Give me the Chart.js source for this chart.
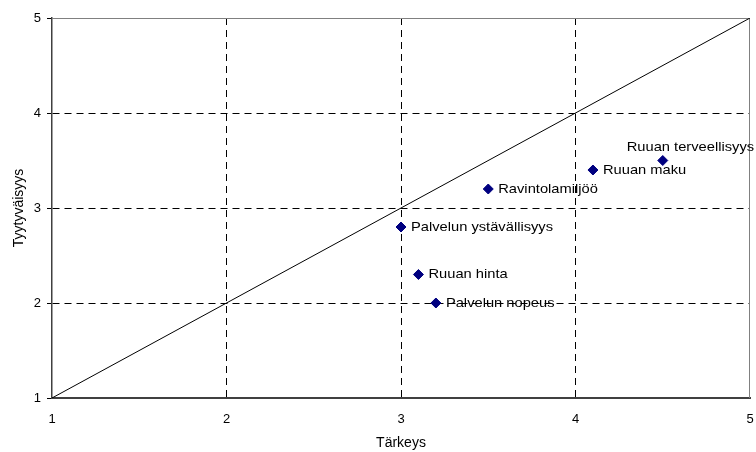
<!DOCTYPE html>
<html>
<head>
<meta charset="utf-8">
<script src="https://cdn.jsdelivr.net/npm/chart.js"></script>
<style>
  html, body { margin: 0; padding: 0; background: #fff; }
  #wrap { width: 756px; height: 452px; }
</style>
</head>
<body>
<div id="wrap"><canvas id="chart" width="756" height="452"></canvas></div>
<script>
  // arvot luettu kuvasta
  const labels = ['Ruuan terveellisyys', 'Ruuan maku', 'Ravintolamiljöö', 'Palvelun ystävällisyys', 'Ruuan hinta', 'Palvelun nopeus'];
  const tarkeys = [4.5, 4.1, 3.5, 3.0, 3.1, 3.2];
  const tyytyvaisyys = [3.5, 3.4, 3.2, 2.8, 2.3, 2.0];
  const diagonal = [1, 5];
  const axisTicks = [1, 2, 3, 4, 5];

  const family = "'Liberation Sans', Arial, sans-serif";
  const tickFont = { family: family, size: 13 };
  const titleFont = { family: family, size: 14 };

  const frame = {
    id: 'frame',
    beforeDatasetsDraw(chart) {
      const { ctx, chartArea: a } = chart;
      ctx.save();
      ctx.strokeStyle = '#808080';
      ctx.lineWidth = 1;
      ctx.beginPath();
      ctx.moveTo(a.left, a.top + 0.5);
      ctx.lineTo(a.right - 0.5, a.top + 0.5);
      ctx.lineTo(a.right - 0.5, a.bottom);
      ctx.stroke();
      ctx.restore();
    }
  };

  const pointLabels = {
    id: 'pointLabels',
    afterDatasetsDraw(chart) {
      const { ctx } = chart;
      const meta = chart.getDatasetMeta(0);
      const sx = 1.13; // alkuperäisessä teksti on hieman leveämpää
      ctx.save();
      ctx.font = '13px ' + family;
      ctx.fillStyle = '#000';
      ctx.textBaseline = 'middle';
      ctx.textAlign = 'left';
      meta.data.forEach((pt, i) => {
        let dx = 10, dy = 0;
        if (i === 0) { dx = -36; dy = -13; }  // tämä selite on pisteen yläpuolella
        ctx.save();
        ctx.translate(pt.x + dx, pt.y + dy);
        ctx.scale(sx, 1);
        ctx.fillText(labels[i], 0, 0);
        ctx.restore();
      });
      ctx.restore();
    }
  };

  new Chart(document.getElementById('chart'), {
    type: 'scatter',
    data: {
      datasets: [
        {
          data: tarkeys.map((x, i) => ({ x: x, y: tyytyvaisyys[i] })),
          pointStyle: 'rectRot',
          pointRadius: 5,
          pointHoverRadius: 5,
          backgroundColor: '#000080',
          borderColor: '#000080',
          borderWidth: 1
        },
        {
          type: 'line',
          data: diagonal.map(v => ({ x: v, y: v })),
          borderColor: '#000',
          borderWidth: 1,
          pointRadius: 0,
          fill: false
        }
      ]
    },
    options: {
      responsive: false,
      animation: false,
      events: [],
      layout: { padding: { top: 18, right: 4, left: 0, bottom: 0 } },
      plugins: { legend: { display: false }, tooltip: { enabled: false } },
      scales: {
        x: {
          type: 'linear',
          min: 1, max: 5,
          afterBuildTicks: s => { s.ticks = axisTicks.map(v => ({ value: v })); },
          afterFit: s => { s.height = 54; },
          grid: {
            color: c => (c.tick && (c.tick.value === 1 || c.tick.value === 5)) ? 'rgba(0,0,0,0)' : '#000',
            tickColor: 'rgba(0,0,0,0)',
            lineWidth: 1,
            tickLength: 14
          },
          border: { color: '#404040', width: 2, dash: [7, 5] },
          ticks: { color: '#000', font: tickFont, padding: 0, maxRotation: 0 },
          title: { display: true, text: 'Tärkeys', color: '#000', font: titleFont, padding: 0 }
        },
        y: {
          type: 'linear',
          min: 1, max: 5,
          afterBuildTicks: s => { s.ticks = axisTicks.map(v => ({ value: v })); },
          afterFit: s => { s.width = 52; },
          grid: {
            color: c => (c.tick && (c.tick.value === 1 || c.tick.value === 5)) ? 'rgba(0,0,0,0)' : '#000',
            tickColor: '#000',
            lineWidth: 1,
            tickLength: 5
          },
          border: { color: '#404040', width: 1.5, dash: [7, 5] },
          ticks: { color: '#000', font: tickFont, padding: 6 },
          title: { display: true, text: 'Tyytyväisyys', color: '#000', font: titleFont, padding: 11 }
        }
      }
    },
    plugins: [frame, pointLabels]
  });
</script>
</body>
</html>
